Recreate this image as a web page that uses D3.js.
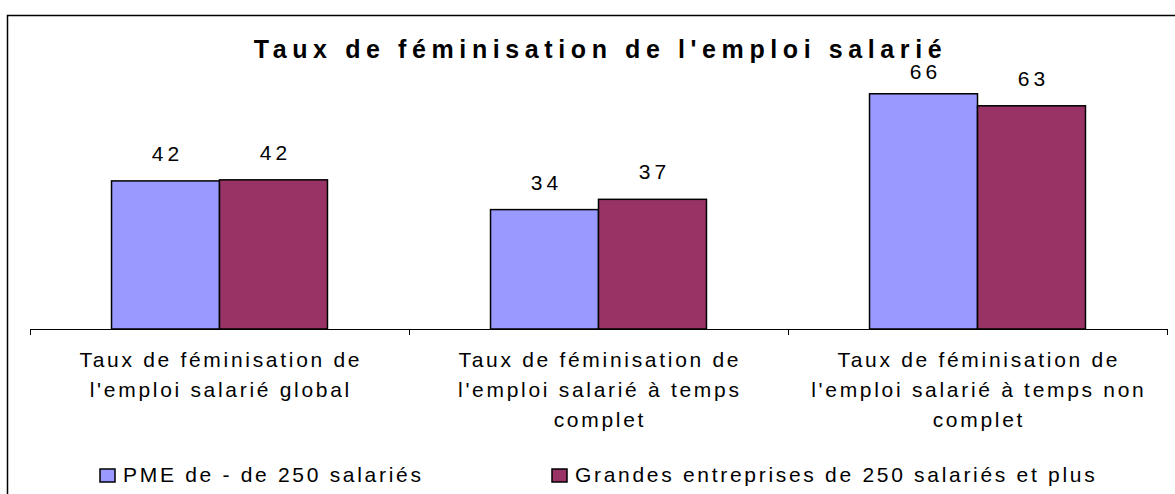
<!DOCTYPE html>
<html>
<head>
<meta charset="utf-8">
<script src="https://cdn.jsdelivr.net/npm/d3@7"></script>
<style>
  html, body { margin: 0; padding: 0; background: #fff; }
  svg { display: block; font-family: "Liberation Sans", Arial, sans-serif; }
</style>
</head>
<body>
<svg id="chart" width="1175" height="494"></svg>
<script>
// chart data
var title = "Taux de féminisation de l'emploi salarié";
var categories = ["global", "complet", "noncomplet"];
var categoryLines = [
    ["Taux de féminisation de", "l'emploi salarié global"],
    ["Taux de féminisation de", "l'emploi salarié à temps", "complet"],
    ["Taux de féminisation de", "l'emploi salarié à temps non", "complet"]
];
var seriesNames = ["PME de - de 250 salariés", "Grandes entreprises de 250 salariés et plus"];
var pmeValues = [41.8, 33.7, 66.4];
var grandesValues = [42.1, 36.6, 63.0];
var colors = ["#9999ff", "#993366"];

(function () {
    var svg = d3.select("#chart");
    var W = 1175, H = 494;
    var top = 81, bottom = 329, left = 30, right = 1167;
    var fontSize = 21, spacing = 2.7;

    var series = [pmeValues, grandesValues];

    // frame, cut by the right and bottom of the picture
    svg.append("rect")
        .attr("x", 7.5).attr("y", 15.5)
        .attr("width", W).attr("height", H)
        .attr("fill", "none").attr("stroke", "#000").attr("stroke-width", 1.5);

    var x = d3.scaleBand().domain(categories).range([left, right]);
    var x1 = d3.scaleBand().domain([0, 1]).range([0, x.bandwidth()]).paddingOuter(0.755);
    var y = d3.scaleLinear().domain([0, 70]).range([bottom, top]);

    // title
    svg.append("text")
        .attr("x", (left + right) / 2 + 2).attr("y", 58)
        .attr("text-anchor", "middle")
        .style("font-size", "25px").style("font-weight", "bold")
        .style("letter-spacing", "5.6px")
        .text(title);

    var groups = svg.selectAll("g.cat")
        .data(categories)
        .enter().append("g")
        .attr("class", "cat")
        .attr("transform", function (d) { return "translate(" + x(d) + ",0)"; });

    groups.selectAll("rect")
        .data(function (d, i) { return series.map(function (s, k) { return { k: k, v: s[i] }; }); })
        .enter().append("rect")
        .attr("x", function (d) { return x1(d.k); })
        .attr("y", function (d) { return y(d.v); })
        .attr("width", x1.bandwidth())
        .attr("height", function (d) { return bottom - y(d.v); })
        .attr("fill", function (d) { return colors[d.k]; })
        .attr("stroke", "#000").attr("stroke-width", 1.5);

    groups.selectAll("text.val")
        .data(function (d, i) { return series.map(function (s, k) { return { k: k, v: s[i] }; }); })
        .enter().append("text")
        .attr("class", "val")
        .attr("x", function (d) { return x1(d.k) + x1.bandwidth() / 2 + 2; })
        .attr("y", function (d) { return Math.max(y(d.v) - 20, 79); })
        .attr("text-anchor", "middle")
        .style("font-size", fontSize + "px").style("letter-spacing", "4px")
        .text(function (d) { return d3.format(".0f")(d.v); });

    // category axis
    svg.append("line")
        .attr("x1", left).attr("x2", right)
        .attr("y1", bottom + 0.5).attr("y2", bottom + 0.5)
        .attr("stroke", "#000").attr("stroke-width", 1);

    var bounds = categories.map(function (c) { return x(c); }).concat([right]);
    svg.selectAll("line.tick")
        .data(bounds)
        .enter().append("line")
        .attr("class", "tick")
        .attr("x1", function (d) { return d + 0.5; }).attr("x2", function (d) { return d + 0.5; })
        .attr("y1", bottom).attr("y2", bottom + 6)
        .attr("stroke", "#000");

    groups.each(function (d, i) {
        var t = d3.select(this).append("text")
            .attr("text-anchor", "middle")
            .style("font-size", fontSize + "px").style("letter-spacing", spacing + "px");
        categoryLines[i].forEach(function (line, j) {
            t.append("tspan")
                .attr("x", x.bandwidth() / 2 + spacing / 2)
                .attr("y", 367 + j * 30)
                .text(line);
        });
    });

    // legend
    var legendX = [100, 552];
    var legend = svg.selectAll("g.legend")
        .data(seriesNames)
        .enter().append("g")
        .attr("class", "legend")
        .attr("transform", function (d, i) { return "translate(" + legendX[i] + ",469)"; });

    legend.append("rect")
        .attr("width", 15).attr("height", 13)
        .attr("fill", function (d, i) { return colors[i]; })
        .attr("stroke", "#000").attr("stroke-width", 1.5);

    legend.append("text")
        .attr("x", 23).attr("y", 13)
        .style("font-size", fontSize + "px").style("letter-spacing", spacing + "px")
        .text(function (d) { return d; });
})();
</script>
</body>
</html>
